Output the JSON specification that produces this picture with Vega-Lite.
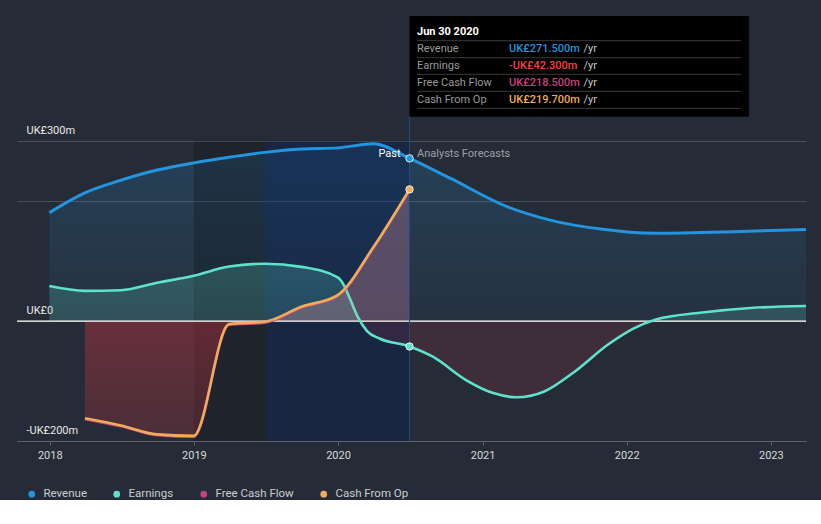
{
  "$schema": "https://vega.github.io/schema/vega-lite/v6.json",
  "width": 789,
  "height": 425,
  "padding": {"left": 16, "top": 16, "right": 16, "bottom": 0},
  "background": "#262c37",
  "config": {
    "view": {"stroke": null},
    "font": "Roboto",
    "text": {"font": "Roboto"}
  },
  "data": {
    "values": [
      {"date": "2017-12-31", "series": "Revenue", "value": 181},
      {"date": "2018-03-31", "series": "Revenue", "value": 214},
      {"date": "2018-06-30", "series": "Revenue", "value": 235},
      {"date": "2018-09-30", "series": "Revenue", "value": 252},
      {"date": "2018-12-31", "series": "Revenue", "value": 264},
      {"date": "2019-03-31", "series": "Revenue", "value": 273.5},
      {"date": "2019-06-30", "series": "Revenue", "value": 281.5},
      {"date": "2019-09-30", "series": "Revenue", "value": 287},
      {"date": "2019-12-31", "series": "Revenue", "value": 289},
      {"date": "2020-03-31", "series": "Revenue", "value": 296},
      {"date": "2020-06-30", "series": "Revenue", "value": 271.5},
      {"date": "2020-10-12", "series": "Revenue", "value": 238},
      {"date": "2021-03-04", "series": "Revenue", "value": 191},
      {"date": "2021-06-21", "series": "Revenue", "value": 168.5},
      {"date": "2021-10-27", "series": "Revenue", "value": 153.5},
      {"date": "2022-03-11", "series": "Revenue", "value": 146.5},
      {"date": "2022-09-27", "series": "Revenue", "value": 149},
      {"date": "2023-03-31", "series": "Revenue", "value": 153},

      {"date": "2017-12-31", "series": "Earnings", "value": 58.5},
      {"date": "2018-03-31", "series": "Earnings", "value": 50.5},
      {"date": "2018-06-30", "series": "Earnings", "value": 51.5},
      {"date": "2018-09-30", "series": "Earnings", "value": 64},
      {"date": "2018-12-31", "series": "Earnings", "value": 75.5},
      {"date": "2019-03-31", "series": "Earnings", "value": 91},
      {"date": "2019-06-30", "series": "Earnings", "value": 95.8},
      {"date": "2019-09-30", "series": "Earnings", "value": 90.5},
      {"date": "2019-12-31", "series": "Earnings", "value": 73},
      {"date": "2020-01-15", "series": "Earnings", "value": 61},
      {"date": "2020-02-01", "series": "Earnings", "value": 36},
      {"date": "2020-02-20", "series": "Earnings", "value": 7},
      {"date": "2020-03-15", "series": "Earnings", "value": -17},
      {"date": "2020-04-15", "series": "Earnings", "value": -29},
      {"date": "2020-06-30", "series": "Earnings", "value": -42.3},
      {"date": "2020-08-28", "series": "Earnings", "value": -59.4},
      {"date": "2020-11-20", "series": "Earnings", "value": -98.3},
      {"date": "2021-01-30", "series": "Earnings", "value": -120.5},
      {"date": "2021-03-28", "series": "Earnings", "value": -127.1},
      {"date": "2021-06-05", "series": "Earnings", "value": -117.8},
      {"date": "2021-08-22", "series": "Earnings", "value": -84.4},
      {"date": "2021-11-13", "series": "Earnings", "value": -39.9},
      {"date": "2022-01-19", "series": "Earnings", "value": -12},
      {"date": "2022-03-18", "series": "Earnings", "value": 3},
      {"date": "2022-07-06", "series": "Earnings", "value": 14},
      {"date": "2022-11-10", "series": "Earnings", "value": 21.9},
      {"date": "2023-03-31", "series": "Earnings", "value": 25.2},

      {"date": "2018-03-31", "series": "Free Cash Flow", "value": -163.5},
      {"date": "2018-06-30", "series": "Free Cash Flow", "value": -175.5},
      {"date": "2018-09-30", "series": "Free Cash Flow", "value": -190.5},
      {"date": "2018-12-31", "series": "Free Cash Flow", "value": -193},
      {"date": "2019-03-31", "series": "Free Cash Flow", "value": -6.5},
      {"date": "2019-06-30", "series": "Free Cash Flow", "value": -2.5},
      {"date": "2019-09-30", "series": "Free Cash Flow", "value": 22.5},
      {"date": "2019-12-31", "series": "Free Cash Flow", "value": 42},
      {"date": "2020-03-31", "series": "Free Cash Flow", "value": 122.5},
      {"date": "2020-06-30", "series": "Free Cash Flow", "value": 218.5},

      {"date": "2018-03-31", "series": "Cash From Op", "value": -162},
      {"date": "2018-06-30", "series": "Cash From Op", "value": -174},
      {"date": "2018-09-30", "series": "Cash From Op", "value": -189},
      {"date": "2018-12-31", "series": "Cash From Op", "value": -191.5},
      {"date": "2019-03-31", "series": "Cash From Op", "value": -5},
      {"date": "2019-06-30", "series": "Cash From Op", "value": -1},
      {"date": "2019-09-30", "series": "Cash From Op", "value": 24},
      {"date": "2019-12-31", "series": "Cash From Op", "value": 43.5},
      {"date": "2020-03-31", "series": "Cash From Op", "value": 124},
      {"date": "2020-06-30", "series": "Cash From Op", "value": 219.7}
    ]
  },
  "layer": [
    {
      "transform": [{"filter": "datum.series == 'Revenue'"}],
      "mark": {"type": "area", "interpolate": "monotone", "opacity": 1,
        "fill": {"gradient": "linear", "x1": 0, "y1": 0, "x2": 0, "y2": 1,
          "stops": [{"offset": 0, "color": "rgba(35,148,223,0.2)"}, {"offset": 1, "color": "rgba(35,148,223,0.05)"}]}},
      "encoding": {
        "x": {"field": "date", "type": "temporal",
          "scale": {"type": "utc", "domain": [{"year": 2017, "month": 10, "date": 10, "utc": true}, {"year": 2023, "month": 3, "date": 31, "utc": true}]},
          "axis": {"title": null, "values": [{"year": 2018, "utc": true}, {"year": 2019, "utc": true}, {"year": 2020, "utc": true}, {"year": 2021, "utc": true}, {"year": 2022, "utc": true}, {"year": 2023, "utc": true}],
            "format": "%Y", "formatType": "utc", "grid": false, "domainColor": "#5b616b", "tickColor": "#5b616b", "tickSize": 4,
            "labelColor": "#d8dadd", "labelFontSize": 11, "labelPadding": 4, "labelFont": "Roboto"}},
        "y": {"field": "value", "type": "quantitative",
          "scale": {"domain": [-200, 509], "nice": false, "zero": false},
          "axis": {"title": null, "values": [-200, 0, 200, 300],
            "labelExpr": "datum.value == 300 ? 'UK£300m' : datum.value == 0 ? 'UK£0' : datum.value == -200 ? '-UK£200m' : ''",
            "domain": false, "ticks": false, "tickSize": 0, "grid": true, "gridColor": "#4a505a", "gridWidth": 1,
            "labelAlign": "left", "labelBaseline": "alphabetic", "labelPadding": -9, "labelOffset": -8,
            "labelColor": "#e8e8e8", "labelFontSize": 11, "labelFont": "Roboto", "labelOverlap": false, "labelBound": false, "labelFlush": false}},
        "y2": {"datum": 0}
      }
    },
    {
      "data": {"values": [{}]},
      "mark": {"type": "rect", "color": "#000000", "opacity": 0.2},
      "encoding": {
        "x": {"datum": {"year": 2019, "month": 1, "date": 1, "utc": true}, "type": "temporal"},
        "x2": {"datum": {"year": 2020, "month": 6, "date": 30, "utc": true}},
        "y": {"datum": 300, "type": "quantitative"},
        "y2": {"datum": -200}
      }
    },
    {
      "data": {"values": [{}]},
      "mark": {"type": "rect", "color": "rgb(0,60,200)", "opacity": 0.14},
      "encoding": {
        "x": {"datum": {"year": 2019, "month": 7, "date": 1, "utc": true}, "type": "temporal"},
        "x2": {"datum": {"year": 2020, "month": 6, "date": 30, "utc": true}},
        "y": {"datum": 300, "type": "quantitative"},
        "y2": {"datum": -200}
      }
    },
    {
      "transform": [{"filter": "datum.series == 'Earnings'"}],
      "mark": {"type": "area", "interpolate": "monotone", "opacity": 1,
        "fill": {"gradient": "linear", "x1": 0, "y1": 0, "x2": 0, "y2": 1,
          "stops": [{"offset": 0, "color": "rgba(94,226,205,0.22)"}, {"offset": 0.4298, "color": "rgba(94,226,205,0.18)"},
                    {"offset": 0.4298, "color": "rgba(230,60,75,0.13)"}, {"offset": 1, "color": "rgba(230,60,75,0.13)"}]}},
      "encoding": {"x": {"field": "date", "type": "temporal"}, "y": {"field": "value", "type": "quantitative"}, "y2": {"datum": 0}}
    },
    {
      "transform": [{"filter": "datum.series == 'Free Cash Flow'"}],
      "mark": {"type": "area", "interpolate": "monotone", "opacity": 1,
        "fill": {"gradient": "linear", "x1": 0, "y1": 0, "x2": 0, "y2": 1,
          "stops": [{"offset": 0, "color": "rgba(200,120,200,0.22)"}, {"offset": 0.531, "color": "rgba(200,120,200,0.22)"},
                    {"offset": 0.531, "color": "rgba(220,55,65,0.36)"}, {"offset": 1, "color": "rgba(220,55,65,0.2)"}]}},
      "encoding": {"x": {"field": "date", "type": "temporal"}, "y": {"field": "value", "type": "quantitative"}, "y2": {"datum": 0}}
    },
    {
      "data": {"values": [{}]},
      "mark": {"type": "rule", "color": "#ffffff", "strokeWidth": 1.2},
      "encoding": {"y": {"datum": 0, "type": "quantitative"}}
    },
    {
      "transform": [{"filter": "datum.series == 'Revenue'"}],
      "mark": {"type": "line", "interpolate": "monotone", "color": "#2394df", "strokeWidth": 3},
      "encoding": {"x": {"field": "date", "type": "temporal"}, "y": {"field": "value", "type": "quantitative"}}
    },
    {
      "transform": [{"filter": "datum.series == 'Earnings'"}],
      "mark": {"type": "line", "interpolate": "monotone", "color": "#5ee2cd", "strokeWidth": 2.6},
      "encoding": {"x": {"field": "date", "type": "temporal"}, "y": {"field": "value", "type": "quantitative"}}
    },
    {
      "transform": [{"filter": "datum.series == 'Free Cash Flow'"}],
      "mark": {"type": "line", "interpolate": "monotone", "color": "#c5437f", "strokeWidth": 2.6},
      "encoding": {"x": {"field": "date", "type": "temporal"}, "y": {"field": "value", "type": "quantitative"}}
    },
    {
      "transform": [{"filter": "datum.series == 'Cash From Op'"}],
      "mark": {"type": "area", "interpolate": "monotone", "opacity": 1,
        "fill": {"gradient": "linear", "x1": 0, "y1": 0, "x2": 0, "y2": 1,
          "stops": [{"offset": 0, "color": "rgba(240,173,88,0.14)"}, {"offset": 0.5343, "color": "rgba(240,173,88,0.14)"},
                    {"offset": 0.5343, "color": "rgba(0,0,0,0)"}, {"offset": 1, "color": "rgba(0,0,0,0)"}]}},
      "encoding": {"x": {"field": "date", "type": "temporal"}, "y": {"field": "value", "type": "quantitative"}, "y2": {"datum": 0}}
    },
    {
      "transform": [{"filter": "datum.series == 'Cash From Op'"}],
      "mark": {"type": "line", "interpolate": "monotone", "color": "#efac5a", "strokeWidth": 2.6},
      "encoding": {"x": {"field": "date", "type": "temporal"}, "y": {"field": "value", "type": "quantitative"}}
    },
    {
      "data": {"values": [{}]},
      "mark": {"type": "rule", "color": "#1f4c86", "strokeWidth": 1},
      "encoding": {
        "x": {"datum": {"year": 2020, "month": 6, "date": 30, "utc": true}, "type": "temporal"},
        "y": {"datum": 341, "type": "quantitative"},
        "y2": {"datum": -200}
      }
    },
    {
      "transform": [{"filter": "datum.series != 'Free Cash Flow' && utcyear(datum.date) == 2020 && utcmonth(datum.date) == 5 && utcdate(datum.date) == 30"}],
      "mark": {"type": "point", "filled": true, "size": 55, "stroke": "#ffffff", "strokeWidth": 1, "opacity": 1, "strokeOpacity": 0.85},
      "encoding": {
        "x": {"field": "date", "type": "temporal"},
        "y": {"field": "value", "type": "quantitative"},
        "fill": {"field": "series", "type": "nominal",
          "scale": {"domain": ["Revenue", "Earnings", "Free Cash Flow", "Cash From Op"], "range": ["#2394df", "#5ee2cd", "#c5437f", "#efac5a"]},
          "legend": {"orient": "none", "legendX": 9, "legendY": 472, "direction": "horizontal", "title": null,
            "symbolType": "circle", "symbolSize": 45, "symbolStrokeWidth": 0, "labelColor": "#c9ccd1", "labelFontSize": 11.5,
            "labelFont": "Roboto", "columnPadding": 24, "labelOffset": 6, "padding": 0}}
      }
    },
    {
      "data": {"values": [{}]},
      "mark": {"type": "text", "text": "Past", "align": "right", "baseline": "alphabetic", "dx": -9, "dy": -1, "fontSize": 11, "color": "#ffffff"},
      "encoding": {
        "x": {"datum": {"year": 2020, "month": 6, "date": 30, "utc": true}, "type": "temporal"},
        "y": {"datum": 271.5, "type": "quantitative"}
      }
    },
    {
      "data": {"values": [{}]},
      "mark": {"type": "text", "text": "Analysts Forecasts", "align": "left", "baseline": "alphabetic", "dx": 7.5, "dy": -1, "fontSize": 11, "color": "#9ba0a8"},
      "encoding": {
        "x": {"datum": {"year": 2020, "month": 6, "date": 30, "utc": true}, "type": "temporal"},
        "y": {"datum": 271.5, "type": "quantitative"}
      }
    },
    {
      "data": {"values": [{}]},
      "mark": {"type": "rect", "color": "#000000"},
      "encoding": {
        "x": {"datum": {"year": 2020, "month": 6, "date": 30, "utc": true}, "type": "temporal"},
        "x2": {"datum": {"year": 2022, "month": 11, "date": 7, "utc": true}},
        "y": {"datum": 509, "type": "quantitative"},
        "y2": {"datum": 341}
      }
    },
    {
      "data": {"values": [{"y": 467.8}, {"y": 439.4}, {"y": 411.7}, {"y": 383.3}, {"y": 355.0}]},
      "mark": {"type": "rule", "color": "#3c3c3c", "strokeWidth": 1},
      "encoding": {
        "x": {"datum": {"year": 2020, "month": 7, "date": 19, "utc": true}, "type": "temporal"},
        "x2": {"datum": {"year": 2022, "month": 10, "date": 17, "utc": true}},
        "y": {"field": "y", "type": "quantitative"}
      }
    },
    {
      "data": {"values": [{}]},
      "mark": {"type": "text", "text": "Jun 30 2020", "align": "left", "baseline": "alphabetic", "dx": 7.5, "fontSize": 11, "fontWeight": "bold", "color": "#ffffff"},
      "encoding": {
        "x": {"datum": {"year": 2020, "month": 6, "date": 30, "utc": true}, "type": "temporal"},
        "y": {"datum": 477.3, "type": "quantitative"}
      }
    },
    {
      "data": {"values": [{}]},
      "mark": {"type": "text", "text": ["Revenue", "Earnings", "Free Cash Flow", "Cash From Op"], "lineHeight": 17, "align": "left", "baseline": "alphabetic", "dx": 7.5, "fontSize": 11, "color": "#9a9a9a"},
      "encoding": {
        "x": {"datum": {"year": 2020, "month": 6, "date": 30, "utc": true}, "type": "temporal"},
        "y": {"datum": 449, "type": "quantitative"}
      }
    },
    {
      "data": {"values": [{}]},
      "mark": {"type": "text", "text": ["/yr", "/yr", "/yr", "/yr"], "lineHeight": 17, "align": "left", "baseline": "alphabetic", "dx": 174, "fontSize": 11, "color": "#c8c8c8"},
      "encoding": {
        "x": {"datum": {"year": 2020, "month": 6, "date": 30, "utc": true}, "type": "temporal"},
        "y": {"datum": 449, "type": "quantitative"}
      }
    },
    {
      "data": {"values": [{}]},
      "mark": {"type": "text", "text": "UK£271.500m", "align": "left", "baseline": "alphabetic", "dx": 99.5, "fontSize": 11, "fontWeight": 500, "color": "#2394df"},
      "encoding": {
        "x": {"datum": {"year": 2020, "month": 6, "date": 30, "utc": true}, "type": "temporal"},
        "y": {"datum": 449, "type": "quantitative"}
      }
    },
    {
      "data": {"values": [{}]},
      "mark": {"type": "text", "text": "-UK£42.300m", "align": "left", "baseline": "alphabetic", "dx": 99.5, "fontSize": 11, "fontWeight": 500, "color": "#f04545"},
      "encoding": {
        "x": {"datum": {"year": 2020, "month": 6, "date": 30, "utc": true}, "type": "temporal"},
        "y": {"datum": 420.6, "type": "quantitative"}
      }
    },
    {
      "data": {"values": [{}]},
      "mark": {"type": "text", "text": "UK£218.500m", "align": "left", "baseline": "alphabetic", "dx": 99.5, "fontSize": 11, "fontWeight": 500, "color": "#c5437f"},
      "encoding": {
        "x": {"datum": {"year": 2020, "month": 6, "date": 30, "utc": true}, "type": "temporal"},
        "y": {"datum": 392.2, "type": "quantitative"}
      }
    },
    {
      "data": {"values": [{}]},
      "mark": {"type": "text", "text": "UK£219.700m", "align": "left", "baseline": "alphabetic", "dx": 99.5, "fontSize": 11, "fontWeight": 500, "color": "#efac5a"},
      "encoding": {
        "x": {"datum": {"year": 2020, "month": 6, "date": 30, "utc": true}, "type": "temporal"},
        "y": {"datum": 363.9, "type": "quantitative"}
      }
    }
  ]
}
